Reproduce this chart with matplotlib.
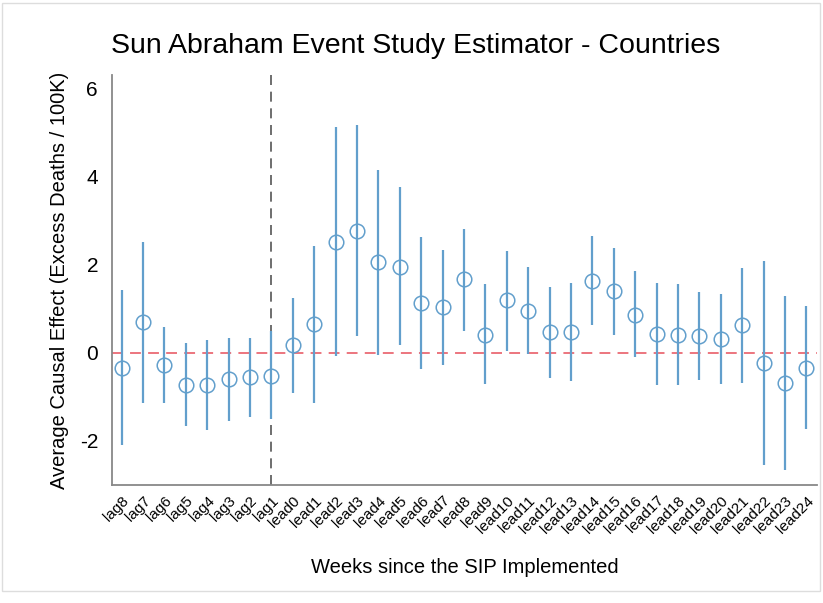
import numpy as np
import matplotlib.pyplot as plt

plt.rcParams['font.family'] = ['Liberation Sans', 'DejaVu Sans']

# event-time labels
LABELS = ['lag8', 'lag7', 'lag6', 'lag5', 'lag4', 'lag3', 'lag2', 'lag1'] + \
    ['lead{}'.format(i) for i in range(25)]

# point estimates
ESTIMATE = [-0.35, 0.69, -0.27, -0.74, -0.74, -0.60, -0.55, -0.53,
            0.18, 0.65, 2.52, 2.77, 2.06, 1.95, 1.13, 1.04, 1.67, 0.41,
            1.19, 0.95, 0.47, 0.47, 1.63, 1.39, 0.86, 0.43, 0.41, 0.37,
            0.32, 0.62, -0.23, -0.68, -0.34]

# confidence interval bounds
CI_LOW = [-2.09, -1.15, -1.15, -1.67, -1.75, -1.54, -1.45, -1.50,
          -0.92, -1.13, -0.08, 0.39, -0.05, 0.17, -0.38, -0.27, 0.50, -0.72,
          0.05, -0.02, -0.57, -0.65, 0.62, 0.41, -0.10, -0.74, -0.74, -0.62,
          -0.70, -0.68, -2.54, -2.65, -1.73]
CI_HIGH = [1.42, 2.52, 0.59, 0.22, 0.28, 0.33, 0.33, 0.50,
           1.25, 2.42, 5.12, 5.17, 4.14, 3.77, 2.62, 2.34, 2.81, 1.55,
           2.30, 1.94, 1.49, 1.59, 2.64, 2.38, 1.85, 1.59, 1.55, 1.37,
           1.33, 1.93, 2.08, 1.28, 1.07]

BLUE = '#629fcc'

fig = plt.figure(figsize=(8.23, 6.03), dpi=100)
ax = fig.add_axes([112 / 823, 1 - 485 / 603, 705 / 823, 410 / 603])

x = np.arange(len(LABELS))
est = np.array(ESTIMATE)
yerr = [est - np.array(CI_LOW), np.array(CI_HIGH) - est]

ax.axhline(0, color='#ea6a74', linestyle=(0, (6, 4)), linewidth=1.3, zorder=1)
ax.axvline(7, color='#555555', linestyle=(0, (6, 4)), linewidth=1.2, zorder=1)
ax.errorbar(x, est, yerr=yerr, fmt='o', color=BLUE, ecolor=BLUE,
            elinewidth=1.6, capsize=0, markersize=10.5, markerfacecolor='none',
            markeredgecolor=BLUE, markeredgewidth=1.1, zorder=3)

ax.set_xlim(-0.45, 32.5)
ax.set_ylim(-3.0, 6.3)
ax.set_yticks([-2, 0, 2, 4, 6])
ax.set_yticklabels(['-2', '0', '2', '4', '6'], fontsize=15)
ax.set_xticks(x)
ax.set_xticklabels(LABELS, rotation=45, ha='right', rotation_mode='anchor',
                   fontsize=11)
ax.tick_params(axis='both', length=0, pad=6)
ax.tick_params(axis='y', pad=10)

for side in ['top', 'right']:
    ax.spines[side].set_visible(False)
for side in ['left', 'bottom']:
    ax.spines[side].set_color('#888888')
    ax.spines[side].set_linewidth(1.3)

ax.set_title('Sun Abraham Event Study Estimator - Countries', fontsize=20.5,
             pad=16, x=0.43)
ax.set_ylabel('Average Causal Effect (Excess Deaths / 100K)', fontsize=14.5,
              labelpad=8)
ax.set_xlabel('Weeks since the SIP Implemented', fontsize=14.5, labelpad=16)

fig.patches.append(plt.Rectangle((0.002, 0.02), 0.994, 0.975,
                                 transform=fig.transFigure, fill=False,
                                 edgecolor='#dddddd', linewidth=1))

fig.savefig('out.png', dpi=100)
